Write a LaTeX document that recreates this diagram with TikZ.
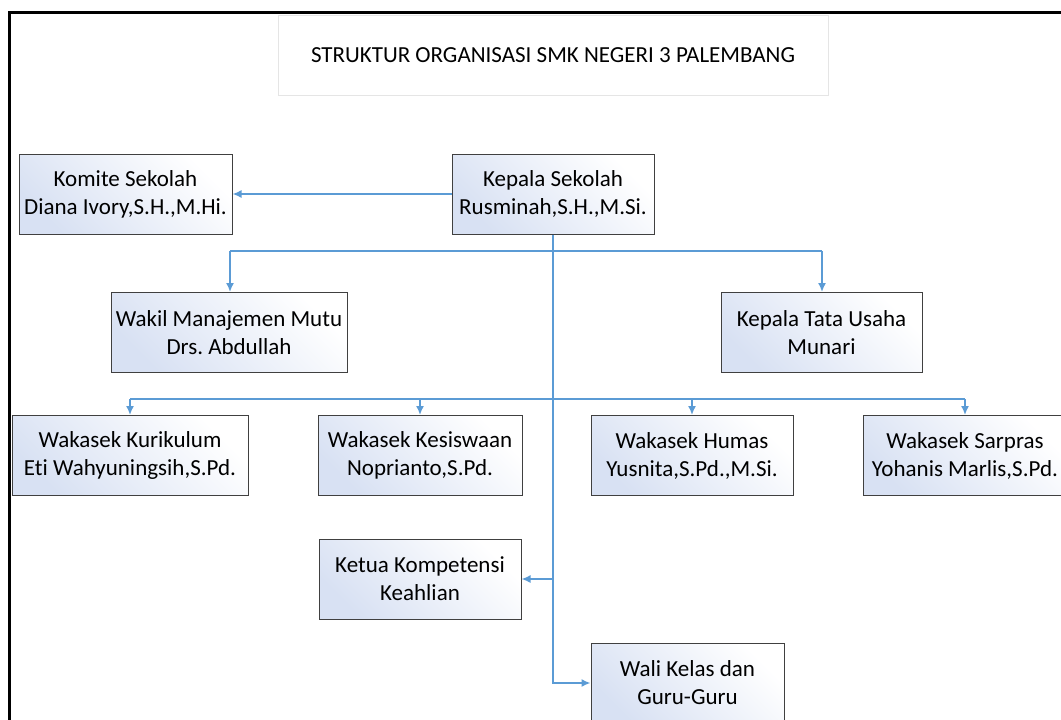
\documentclass[tikz,border=0pt]{standalone}
\usepackage{fontspec}
\setmainfont{Carlito}[Ligatures=NoCommon]
\usetikzlibrary{arrows.meta}
\definecolor{connc}{HTML}{5B9BD5}
\definecolor{boxtop}{HTML}{D8E1F3}
\frenchspacing
\begin{document}
\begin{tikzpicture}[x=1pt,y=-1pt,
  orgbox/.style={draw=black!75, line width=1pt, top color=white, bottom color=boxtop, shading angle=-45,
    minimum height=80pt, align=center, inner sep=0pt, font=\fontsize{23}{28}\selectfont},
  titlebox/.style={draw=black!10, line width=0.8pt, minimum width=550pt, minimum height=80pt,
    inner sep=0pt, font=\fontsize{23}{28}\selectfont},
  connline/.style={draw=connc, line width=1.6pt},
  arr/.style={connline, -{Latex[length=9pt,width=8pt]}}]
\useasboundingbox (0,0) rectangle (1061,720);
\draw[line width=3pt] (9.5,740) -- (9.5,12) -- (1080,12);

\node[titlebox] (title) at (553,55) {STRUKTUR ORGANISASI SMK NEGERI 3 PALEMBANG};

\node[orgbox, minimum width=213pt] (komite) at (125.5,194) {Komite Sekolah\\Diana Ivory,S.H.,M.Hi.};
\node[orgbox, minimum width=202pt] (kepala) at (553,194) {Kepala Sekolah\\Rusminah,S.H.,M.Si.};
\node[orgbox, minimum width=236pt] (wakil) at (229,332.5) {Wakil Manajemen Mutu\\Drs.\ Abdullah};
\node[orgbox, minimum width=201pt] (tu) at (821.5,332.5) {Kepala Tata Usaha\\Munari};
\node[orgbox, minimum width=236pt] (kur) at (130,455.5) {Wakasek Kurikulum\\Et\kern0pt i Wahyuningsih,S.Pd.};
\node[orgbox, minimum width=204pt] (kes) at (420,455.5) {Wakasek Kesiswaan\\Noprianto,S.Pd.};
\node[orgbox, minimum width=202pt] (humas) at (692,455.5) {Wakasek Humas\\Yusnita,S.Pd.,M.Si.};
\node[orgbox, minimum width=204pt] (sarpras) at (965,455.5) {Wakasek Sarpras\\Yohanis Marlis,S.Pd.};
\node[orgbox, minimum width=202pt] (ketua) at (420,579) {Ketua Kompetensi\\Keahlian};
\node[orgbox, minimum width=193pt] (wali) at (687.5,683) {Wali Kelas dan\\Guru-Guru};

\coordinate (h1l) at (230,251);
\coordinate (h1r) at (822,251);
\coordinate (h2l) at (130,399);
\coordinate (h2r) at (965,399);
\coordinate (tk) at (553,579);
\coordinate (tw) at (553,683);

\draw[arr] (kepala.west) -- (komite.east);
\draw[arr] (kepala.south) -- (tw) -- (wali.west);
\draw[arr] (tk) -- (ketua.east);
\draw[connline] (h1l) -- (h1r);
\draw[arr] (h1l) -- (h1l |- wakil.north);
\draw[arr] (h1r) -- (h1r |- tu.north);
\draw[connline] (h2l) -- (h2r);
\draw[arr] (h2l) -- (kur.north);
\draw[arr] (kes.north |- h2l) -- (kes.north);
\draw[arr] (humas.north |- h2l) -- (humas.north);
\draw[arr] (h2r) -- (sarpras.north);
\end{tikzpicture}
\end{document}
